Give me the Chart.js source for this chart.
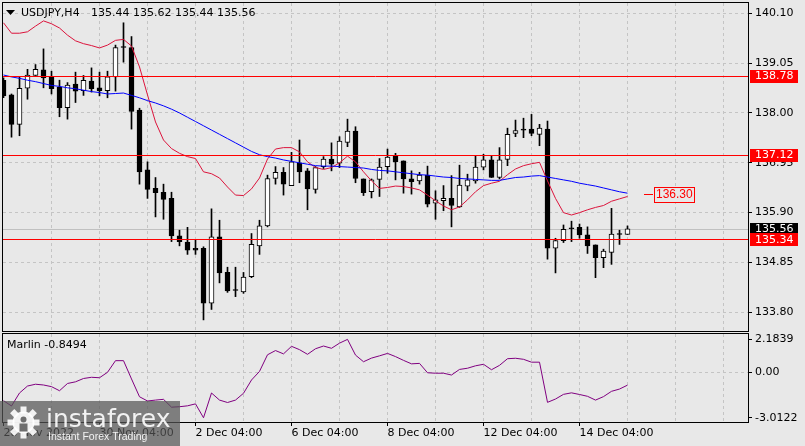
<!DOCTYPE html>
<html>
<head>
<meta charset="utf-8">
<script src="https://cdn.jsdelivr.net/npm/chart.js@4/dist/chart.umd.min.js"></script>
<style>
    html, body { margin: 0; padding: 0; background: #e8e8e8; }
    #wrap { position: relative; width: 805px; height: 446px; overflow: hidden; }
    canvas { position: absolute; left: 0; }
    #mainChart { top: 0; }
    #marlinChart { top: 333px; }
</style>
</head>
<body>
<div id="wrap">
    <canvas id="mainChart" width="805" height="333"></canvas>
    <canvas id="marlinChart" width="805" height="113"></canvas>
</div>
<script>
// USDJPY H4 candles
const opens = [138.69, 138.38, 137.76, 138.52, 138.79, 138.91, 138.75, 138.54, 138.11, 138.61,
    138.47, 138.67, 138.53, 138.47, 138.76, 139.38, 139.38, 138.06, 136.80, 136.41,
    136.33, 136.20, 135.41, 135.28, 135.15, 135.15, 133.99, 135.39, 134.64, 134.26,
    134.23, 134.55, 135.20, 135.62, 136.62, 136.75, 136.47, 136.95, 136.78, 136.39,
    136.87, 137.03, 136.94, 137.38, 137.62, 136.61, 136.34, 136.60, 136.87, 137.10,
    136.99, 136.61, 136.57, 136.69, 136.10, 136.15, 136.20, 136.02, 136.46, 136.57,
    136.86, 137.01, 136.64, 137.02, 137.57, 137.64, 137.66, 137.55, 137.66, 135.15,
    135.31, 135.56, 135.59, 135.43, 135.22, 134.95, 135.06, 135.44, 135.44];
const highs = [138.74, 138.40, 138.76, 138.92, 139.02, 139.35, 138.88, 138.69, 138.64, 138.86,
    138.79, 138.95, 138.86, 138.88, 139.43, 139.90, 139.61, 138.10, 136.97, 136.64,
    136.50, 136.33, 135.53, 135.59, 135.32, 135.18, 135.98, 135.74, 134.75, 134.75,
    134.64, 135.46, 135.74, 136.69, 136.87, 136.85, 137.17, 137.43, 136.83, 136.87,
    137.08, 137.37, 137.50, 137.87, 137.71, 136.61, 136.61, 137.04, 137.24, 137.15,
    136.99, 136.78, 136.75, 136.88, 136.36, 136.47, 136.68, 136.90, 136.71, 137.10,
    137.13, 137.09, 137.27, 137.68, 137.85, 137.89, 137.97, 137.76, 137.83, 135.36,
    135.64, 135.72, 135.66, 135.60, 135.22, 135.13, 135.99, 135.53, 135.62];
const lows = [138.32, 137.49, 137.52, 138.29, 138.79, 138.53, 138.40, 137.92, 137.87, 138.22,
    138.37, 138.44, 138.36, 138.32, 138.46, 139.07, 137.66, 136.50, 136.20, 135.81,
    135.76, 135.29, 135.20, 135.02, 135.02, 133.64, 133.86, 134.42, 134.22, 134.13,
    134.20, 134.53, 135.02, 135.60, 136.50, 136.27, 136.47, 136.53, 135.96, 136.31,
    136.83, 136.78, 136.85, 137.29, 136.53, 136.26, 136.21, 136.24, 136.73, 136.59,
    136.31, 136.29, 136.50, 136.02, 135.76, 135.94, 135.60, 136.01, 136.36, 136.52,
    136.80, 136.64, 136.61, 136.89, 137.50, 137.48, 137.52, 137.31, 134.92, 134.63,
    135.27, 135.29, 135.36, 135.04, 134.53, 134.74, 134.81, 135.23, 135.44];
const closes = [138.36, 137.76, 138.52, 138.80, 138.92, 138.74, 138.51, 138.11, 138.59, 138.46,
    138.69, 138.51, 138.47, 138.76, 139.38, 139.38, 138.03, 136.76, 136.39, 136.32,
    136.18, 135.41, 135.29, 135.11, 135.11, 133.99, 135.39, 134.63, 134.25, 134.26,
    134.54, 135.23, 135.62, 136.62, 136.75, 136.50, 136.97, 136.76, 136.40, 136.85,
    137.03, 136.92, 137.41, 137.62, 136.62, 136.32, 136.59, 136.86, 137.07, 136.97,
    136.61, 136.55, 136.69, 136.08, 136.17, 136.20, 136.05, 136.48, 136.59, 136.86,
    137.01, 136.64, 137.01, 137.55, 137.63, 137.64, 137.57, 137.68, 135.15, 135.31,
    135.55, 135.56, 135.43, 135.20, 134.95, 135.09, 135.45, 135.44, 135.56];

// blue moving average
const maLine = [138.80, 138.76, 138.73, 138.69, 138.66, 138.62, 138.58, 138.56, 138.53, 138.51,
    138.48, 138.45, 138.43, 138.40, 138.41, 138.42, 138.37, 138.32, 138.26, 138.21,
    138.15, 138.08, 138.00, 137.91, 137.82, 137.73, 137.64, 137.55, 137.46, 137.37,
    137.28, 137.19, 137.12, 137.08, 137.05, 137.01, 136.98, 136.95, 136.92, 136.89,
    136.88, 136.88, 136.87, 136.86, 136.85, 136.84, 136.81, 136.79, 136.78, 136.76,
    136.74, 136.72, 136.70, 136.69, 136.67, 136.65, 136.64, 136.62, 136.61, 136.60,
    136.59, 136.58, 136.58, 136.61, 136.64, 136.65, 136.67, 136.68, 136.65, 136.62,
    136.59, 136.56, 136.52, 136.49, 136.46, 136.42, 136.38, 136.34, 136.31];

// crimson band line
const bandLine = [139.90, 139.68, 139.68, 139.71, 139.83, 139.94, 139.88, 139.79, 139.64, 139.52,
    139.46, 139.42, 139.37, 139.43, 139.53, 139.55, 139.41, 138.97, 138.38, 137.81,
    137.43, 137.25, 137.15, 137.08, 137.04, 136.76, 136.72, 136.63, 136.44, 136.27,
    136.26, 136.40, 136.63, 137.03, 137.24, 137.27, 137.27, 137.18, 136.97, 136.85,
    136.81, 136.85, 136.95, 137.09, 136.97, 136.76, 136.57, 136.41, 136.43, 136.46,
    136.45, 136.42, 136.38, 136.27, 136.15, 136.04, 135.96, 136.02, 136.17, 136.34,
    136.47, 136.52, 136.56, 136.70, 136.82, 136.89, 136.93, 136.96, 136.57, 136.20,
    135.90, 135.85, 135.90, 135.96, 136.01, 136.05, 136.14, 136.19, 136.24];

// Marlin oscillator
const marlin = [-1.88, -2.23, -1.37, -0.91, -0.79, -0.84, -0.95, -1.22, -0.74, -0.63,
    -0.41, -0.33, -0.36, 0.00, 0.77, 0.77, -0.44, -1.62, -1.90, -1.84,
    -1.79, -2.31, -2.28, -2.22, -2.09, -3.01, -1.37, -1.84, -2.00, -1.84,
    -1.39, -0.51, 0.06, 1.16, 1.44, 1.22, 1.72, 1.50, 1.19, 1.56,
    1.74, 1.59, 1.93, 2.18, 1.14, 0.70, 0.94, 1.09, 1.25, 1.04,
    0.79, 0.56, 0.59, -0.03, -0.06, -0.06, -0.18, 0.19, 0.27, 0.43,
    0.53, 0.17, 0.46, 0.90, 0.93, 0.86, 0.67, 0.67, -1.99, -1.77,
    -1.46, -1.36, -1.47, -1.59, -1.84, -1.61, -1.26, -1.11, -0.85];

const priceTicks = [140.10, 139.05, 138.00, 136.95, 135.90, 134.85, 133.80];
const marlinTicks = [2.1839, 0, -3.0122];
const marlinTickLabels = ['2.1839', '0.00', '-3.0122'];
const dateLabels = ['28 Nov 2022', '30 Nov 04:00', '2 Dec 04:00', '6 Dec 04:00',
    '8 Dec 04:00', '12 Dec 04:00', '14 Dec 04:00'];
const levels = [138.78, 137.12, 135.34];
const bidPrice = 135.56;
const targetPrice = 136.30;

const BG = '#e8e8e8';
const GRID = '#c4c4c4';
const FONT = 'DejaVu Sans';

Chart.defaults.font.family = FONT;
Chart.defaults.font.size = 11;
Chart.defaults.color = '#000';

const idx = opens.map((_, i) => i);
const gridIdx = [];
for (let i = 0; i <= 90; i += 6) gridIdx.push(i);
const xMin = -0.0625, xMax = xMin + 745 / 8;

// keep the plot edges where the panes are, not where the labels want them
function fixRightAxis(s) {
    s.width = 57;
    s.paddingTop = 0;
    s.paddingBottom = 0;
}

function frame(chart) {
    const a = chart.chartArea, ctx = chart.ctx;
    ctx.save();
    ctx.strokeStyle = '#000';
    ctx.lineWidth = 1;
    ctx.strokeRect(a.left - 0.5, a.top - 0.5, a.right - a.left + 1, a.bottom - a.top + 1);
    ctx.restore();
}

const mainDecor = {
    id: 'mainDecor',
    beforeDraw(chart) {
        const ctx = chart.ctx;
        ctx.save();
        ctx.fillStyle = BG;
        ctx.fillRect(0, 0, chart.width, chart.height);
        ctx.restore();
    },
    beforeDatasetsDraw(chart) {
        const a = chart.chartArea, ctx = chart.ctx;
        const y = Math.round(chart.scales.y.getPixelForValue(bidPrice)) + 0.5;
        ctx.save();
        ctx.strokeStyle = '#c0c0c0';
        ctx.beginPath();
        ctx.moveTo(a.left, y);
        ctx.lineTo(a.right, y);
        ctx.stroke();
        ctx.restore();
    },
    afterDatasetsDraw(chart) {
        const a = chart.chartArea, ctx = chart.ctx;
        ctx.save();
        ctx.strokeStyle = '#ff0000';
        ctx.lineWidth = 1;
        levels.forEach(l => {
            const y = Math.round(chart.scales.y.getPixelForValue(l)) + 0.5;
            ctx.beginPath();
            ctx.moveTo(a.left, y);
            ctx.lineTo(a.right, y);
            ctx.stroke();
        });
        ctx.restore();
    },
    afterDraw(chart) {
        const ctx = chart.ctx, ys = chart.scales.y;
        frame(chart);
        ctx.save();
        // title
        ctx.fillStyle = '#000';
        ctx.beginPath();
        ctx.moveTo(6, 10);
        ctx.lineTo(15, 10);
        ctx.lineTo(10.5, 15);
        ctx.closePath();
        ctx.fill();
        ctx.font = '11px ' + FONT;
        ctx.textBaseline = 'middle';
        ctx.fillText('USDJPY,H4', 21, 13.5);
        ctx.fillText('135.44 135.62 135.44 135.56', 91, 13.5);

        // price tags on the right axis
        const tag = (val, color) => {
            const y = ys.getPixelForValue(val);
            ctx.fillStyle = color;
            ctx.fillRect(750, Math.round(y) - 6, 48, 13);
            ctx.fillStyle = '#fff';
            ctx.fillText(val.toFixed(2), 755, y + 0.5);
        };
        tag(bidPrice, '#000');
        levels.forEach(l => tag(l, '#ff0000'));

        // target label
        const ty = Math.round(ys.getPixelForValue(targetPrice)) + 0.5;
        ctx.strokeStyle = '#ff0000';
        ctx.beginPath();
        ctx.moveTo(644, ty);
        ctx.lineTo(653, ty);
        ctx.stroke();
        ctx.fillStyle = BG;
        ctx.fillRect(654, ty - 7, 40, 15);
        ctx.strokeRect(654.5, ty - 7, 40, 15);
        ctx.fillStyle = '#ff0000';
        ctx.font = '12px Liberation Sans';
        ctx.fillText(targetPrice.toFixed(2), 656, ty + 0.5);
        ctx.restore();
    }
};

const marlinDecor = {
    id: 'marlinDecor',
    beforeDraw(chart) {
        const ctx = chart.ctx;
        ctx.save();
        ctx.fillStyle = BG;
        ctx.fillRect(0, 0, chart.width, chart.height);
        ctx.restore();
    },
    afterDraw(chart) {
        const ctx = chart.ctx;
        frame(chart);
        ctx.save();
        ctx.fillStyle = '#000';
        ctx.font = '11px ' + FONT;
        ctx.textBaseline = 'middle';
        ctx.fillText('Marlin -0.8494', 7, 12.5);

        // watermark
        ctx.fillStyle = 'rgba(85, 85, 85, 0.72)';
        ctx.fillRect(0, 68, 180, 45);
        ctx.fillStyle = 'rgba(255, 255, 255, 0.9)';
        const cx = 23.5, cy = 89.5;
        for (let i = 0; i < 8; i++) {
            ctx.save();
            ctx.translate(cx, cy);
            ctx.rotate(i * Math.PI / 4);
            ctx.fillRect(-3, -16, 6, 7);
            ctx.restore();
        }
        ctx.beginPath();
        ctx.arc(cx, cy, 11, 0, Math.PI * 2);
        ctx.fill();
        ctx.fillStyle = 'rgba(110, 110, 110, 1)';
        ctx.beginPath();
        ctx.arc(cx, cy - 3, 3, 0, Math.PI * 2);
        ctx.fill();
        ctx.fillRect(cx - 4, cy + 1, 8, 8);
        ctx.fillStyle = 'rgba(255, 255, 255, 0.9)';
        ctx.textBaseline = 'alphabetic';
        ctx.font = '25px ' + FONT;
        ctx.fillText('instaforex', 46, 94);
        ctx.font = '10.5px Liberation Sans';
        ctx.fillText('Instant Forex Trading', 48, 107);
        ctx.restore();
    }
};

new Chart(document.getElementById('mainChart'), {
    type: 'bar',
    data: {
        datasets: [{
            type: 'line',
            data: idx.map(i => ({ x: i, y: maLine[i] })),
            borderColor: '#0000ff',
            borderWidth: 1,
            pointRadius: 0,
            tension: 0,
            order: 0
        }, {
            type: 'line',
            data: idx.map(i => ({ x: i, y: bandLine[i] })),
            borderColor: '#dc143c',
            borderWidth: 1,
            pointRadius: 0,
            tension: 0,
            order: 0
        }, {
            data: idx.map(i => ({ x: i, y: [opens[i], closes[i]] })),
            backgroundColor: idx.map(i => closes[i] > opens[i] ? '#ffffff' : '#000000'),
            borderColor: '#000',
            borderWidth: 1,
            borderSkipped: false,
            barThickness: 5,
            minBarLength: 1,
            grouped: false,
            order: 1
        }, {
            data: idx.map(i => ({ x: i, y: [lows[i], highs[i]] })),
            backgroundColor: '#000',
            barThickness: 1,
            grouped: false,
            order: 2
        }]
    },
    options: {
        responsive: false,
        animation: false,
        devicePixelRatio: 1,
        layout: { padding: { left: 3, top: 3, right: 0, bottom: 2 } },
        plugins: { legend: { display: false }, tooltip: { enabled: false } },
        scales: {
            x: {
                type: 'linear',
                min: xMin,
                max: xMax,
                offset: false,
                afterBuildTicks: s => { s.ticks = gridIdx.map(v => ({ value: v })); },
                afterFit: s => { s.height = 0; s.paddingLeft = 0; s.paddingRight = 0; },
                ticks: { display: false },
                grid: {
                    offset: false,
                    drawTicks: false,
                    color: c => c.tick && c.tick.value === 0 ? 'transparent' : GRID
                },
                border: { display: false, dash: [3, 3] }
            },
            y: {
                position: 'right',
                min: 133.406,
                max: 140.317,
                afterBuildTicks: s => { s.ticks = priceTicks.map(v => ({ value: v })); },
                afterFit: fixRightAxis,
                ticks: { callback: v => v.toFixed(2), color: '#000', padding: 3 },
                grid: { color: GRID, tickColor: '#000', tickLength: 4, tickBorderDash: [] },
                border: { display: false, dash: [3, 3] }
            }
        }
    },
    plugins: [mainDecor]
});

new Chart(document.getElementById('marlinChart'), {
    type: 'line',
    data: {
        datasets: [{
            data: idx.map(i => ({ x: i, y: marlin[i] })),
            borderColor: '#800080',
            borderWidth: 1,
            pointRadius: 0,
            tension: 0
        }]
    },
    options: {
        responsive: false,
        animation: false,
        devicePixelRatio: 1,
        layout: { padding: { left: 3, top: 1, right: 0, bottom: 0 } },
        plugins: { legend: { display: false }, tooltip: { enabled: false } },
        scales: {
            x: {
                type: 'linear',
                min: xMin,
                max: xMax,
                offset: false,
                afterBuildTicks: s => { s.ticks = gridIdx.map(v => ({ value: v })); },
                afterFit: s => { s.height = 24; s.paddingLeft = 0; s.paddingRight = 0; },
                ticks: {
                    autoSkip: false,
                    maxRotation: 0,
                    align: 'start',
                    padding: 1,
                    color: '#000',
                    callback: v => (v % 12 === 0 && dateLabels[v / 12]) ? dateLabels[v / 12] : ''
                },
                grid: {
                    offset: false,
                    color: c => c.tick && c.tick.value === 0 ? 'transparent' : GRID,
                    tickColor: c => c.tick && c.tick.value % 12 === 0 && c.tick.value <= 72 ? '#000' : 'transparent',
                    tickLength: 4,
                    tickBorderDash: []
                },
                border: { display: false, dash: [3, 3] }
            },
            y: {
                position: 'right',
                min: -3.291,
                max: 2.536,
                afterBuildTicks: s => { s.ticks = marlinTicks.map(v => ({ value: v })); },
                afterFit: fixRightAxis,
                ticks: {
                    color: '#000',
                    padding: 3,
                    callback: v => marlinTickLabels[marlinTicks.indexOf(v)]
                },
                grid: {
                    color: c => c.tick && c.tick.value === 0 ? GRID : 'transparent',
                    tickColor: '#000',
                    tickLength: 4,
                    tickBorderDash: []
                },
                border: { display: false, dash: [3, 3] }
            }
        }
    },
    plugins: [marlinDecor]
});
</script>
</body>
</html>
